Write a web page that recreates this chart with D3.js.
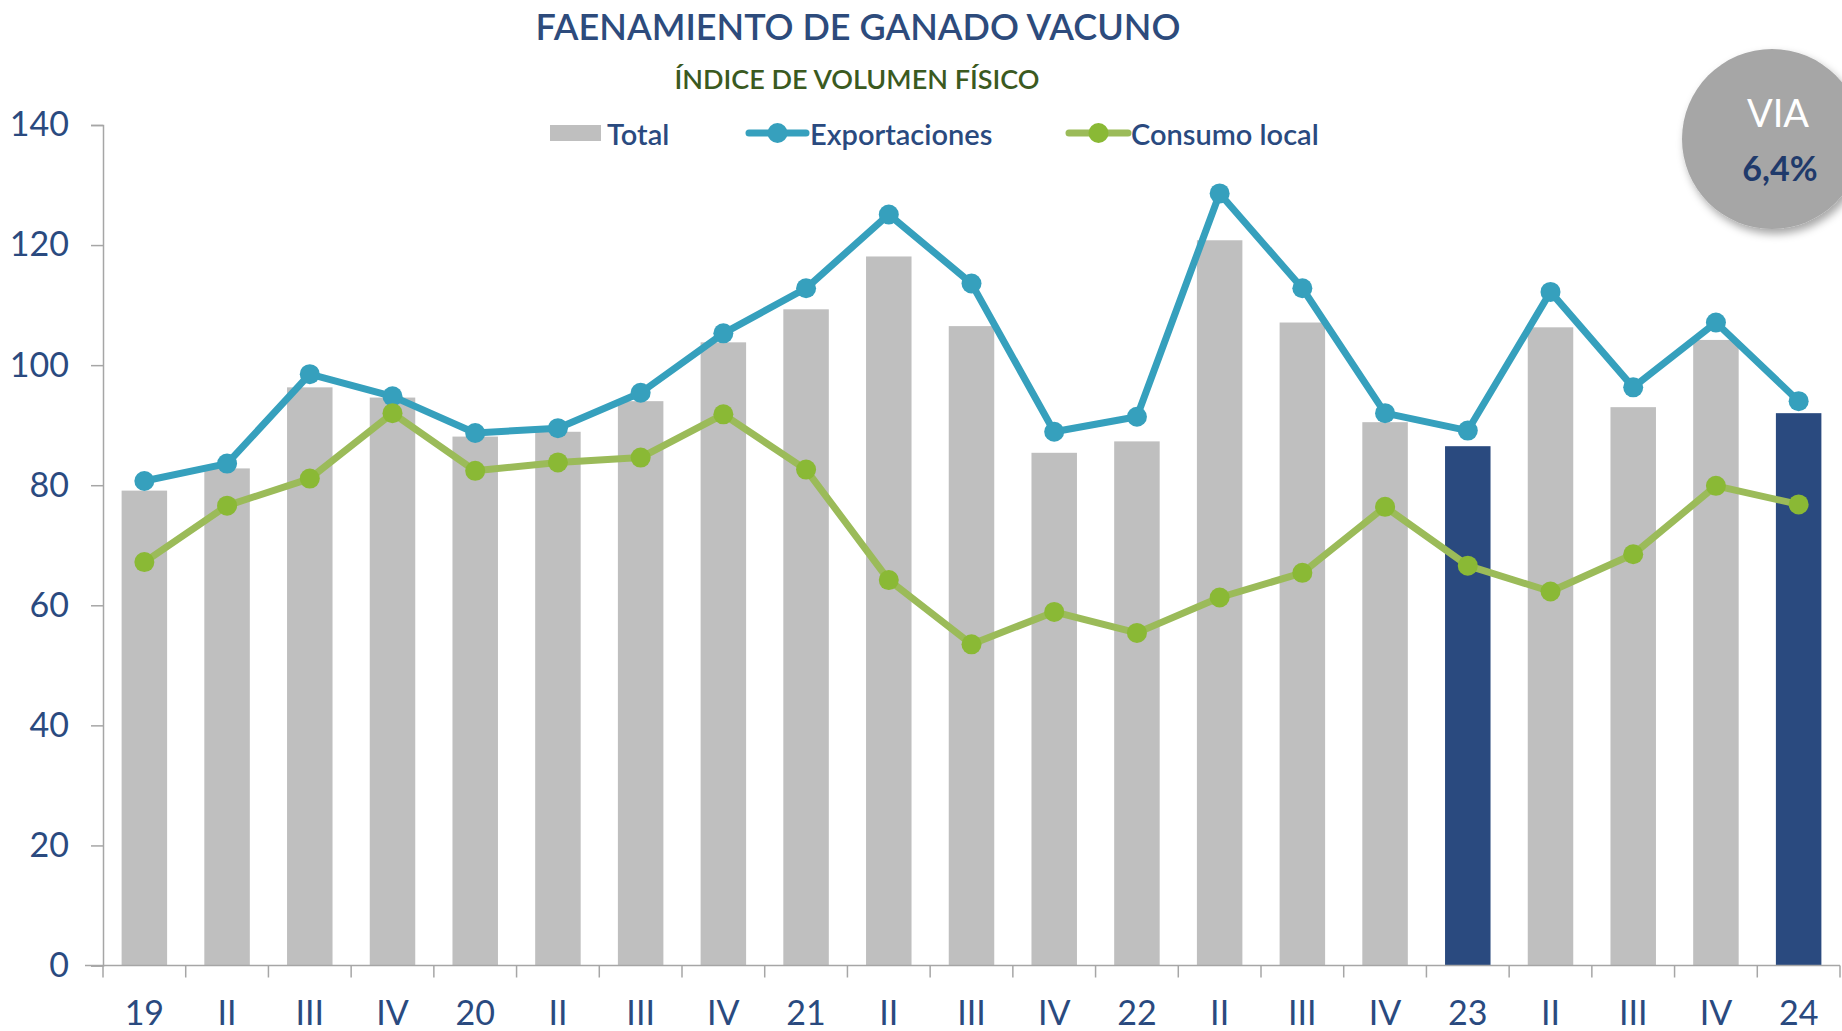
<!DOCTYPE html>
<html><head><meta charset="utf-8">
<script src="https://cdn.jsdelivr.net/npm/d3@7"></script>
<style>
html,body{margin:0;padding:0;background:#fff;}
svg{display:block;}
text{font-family:Lato,"Open Sans",sans-serif;}
</style></head>
<body><div id="chart"></div>
<script>
const categories = ["19","II","III","IV","20","II","III","IV","21","II","III","IV","22","II","III","IV","23","II","III","IV","24"];
const total = [79.1,82.8,96.3,94.6,88.1,88.9,94.0,103.8,109.3,118.1,106.5,85.4,87.3,120.8,107.1,90.5,86.5,106.3,93.0,104.2,92.0];
const exportaciones = [80.7,83.6,98.5,94.8,88.7,89.5,95.4,105.3,112.8,125.1,113.6,88.9,91.4,128.6,112.8,92.0,89.1,112.2,96.3,107.1,94.0];
const consumoLocal = [67.2,76.6,81.1,92.0,82.4,83.8,84.6,91.8,82.6,64.2,53.5,58.9,55.4,61.3,65.4,76.4,66.6,62.3,68.5,79.9,76.8];
const highlighted = [16, 20];
const yTicks = [0,20,40,60,80,100,120,140];
const seriesNames = ["Total","Exportaciones","Consumo local"];
const titleText = "FAENAMIENTO DE GANADO VACUNO";
const subtitleText = "ÍNDICE DE VOLUMEN FÍSICO";
const viaLabel = "VIA";
const viaValue = "6,4%";

(function(){
const W = 1842, H = 1031;
const svg = d3.select("#chart").append("svg").attr("width", W).attr("height", H);
const defs = svg.append("defs");
const f = defs.append("filter").attr("id","shadow").attr("x","-30%").attr("y","-30%").attr("width","160%").attr("height","160%");
f.append("feDropShadow").attr("dx",3).attr("dy",5).attr("stdDeviation",4).attr("flood-color","#000").attr("flood-opacity",0.35);

const mLeft = 103, mRight = 1840, mTop = 125, mBottom = 965.5;
const x = d3.scaleBand().domain(d3.range(categories.length)).range([mLeft, mRight]).paddingInner(0.45).paddingOuter(0.225);
const xb = d3.scaleBand().domain(d3.range(categories.length)).range([mLeft, mRight]);
const y = d3.scaleLinear().domain([0,140]).range([mBottom, mTop]);

const blue = "#2a4a7f", grey = "#bfbfbf", teal = "#36a0bd", green = "#9bbb59", greenDot = "#8ab935", axisC = "#a6a6a6";

svg.append("g").selectAll("rect").data(total).join("rect")
  .attr("x",(d,i)=>x(i)).attr("width",x.bandwidth())
  .attr("y",d=>y(d)).attr("height",d=>y(0)-y(d))
  .attr("fill",(d,i)=>highlighted.includes(i)?blue:grey);

const yAxis = svg.append("g").attr("transform",`translate(${mLeft},0)`)
  .call(d3.axisLeft(y).tickValues(yTicks).tickSize(12).tickPadding(22));
yAxis.select(".domain").attr("stroke",axisC).attr("stroke-width",1.5);
yAxis.selectAll(".tick line").attr("stroke",axisC).attr("stroke-width",1.5);
yAxis.selectAll(".tick text").attr("fill",blue).attr("font-size",34).attr("font-family","Lato, sans-serif");

const xAxisG = svg.append("g").attr("transform",`translate(0,${mBottom})`);
xAxisG.append("line").attr("x1",mLeft-18).attr("x2",mRight).attr("stroke",axisC).attr("stroke-width",1.5);
xAxisG.selectAll("line.tk").data(d3.range(categories.length+1)).join("line").attr("class","tk")
  .attr("x1",i=> i<categories.length ? xb(i) : mRight).attr("x2",i=> i<categories.length ? xb(i) : mRight)
  .attr("y1",0).attr("y2",12).attr("stroke",axisC).attr("stroke-width",1.5);
xAxisG.selectAll("text").data(categories).join("text")
  .attr("x",(d,i)=>xb(i)+xb.bandwidth()/2).attr("y",46)
  .attr("text-anchor","middle").attr("dominant-baseline","central")
  .attr("fill",blue).attr("font-size",34).text(d=>d);

const cx = i => x(i) + x.bandwidth()/2;
const line = d3.line().x((d,i)=>cx(i)).y(d=>y(d));
svg.append("path").datum(exportaciones).attr("d",line).attr("fill","none").attr("stroke",teal).attr("stroke-width",7).attr("stroke-linejoin","round");
svg.append("g").selectAll("circle").data(exportaciones).join("circle").attr("cx",(d,i)=>cx(i)).attr("cy",d=>y(d)).attr("r",10).attr("fill",teal);
svg.append("path").datum(consumoLocal).attr("d",line).attr("fill","none").attr("stroke",green).attr("stroke-width",7).attr("stroke-linejoin","round");
svg.append("g").selectAll("circle").data(consumoLocal).join("circle").attr("cx",(d,i)=>cx(i)).attr("cy",d=>y(d)).attr("r",10).attr("fill",greenDot);

svg.append("text").attr("x",858).attr("y",26).attr("text-anchor","middle").attr("dominant-baseline","central")
  .attr("fill","#2d4b7c").attr("font-size",36).attr("font-weight",600).text(titleText);
svg.append("text").attr("x",857).attr("y",78).attr("text-anchor","middle").attr("dominant-baseline","central")
  .attr("fill","#3b5a1f").attr("font-size",27).attr("font-weight",600).text(subtitleText);

const lg = svg.append("g");
const ly = 133;
lg.append("rect").attr("x",550).attr("y",ly-8).attr("width",51).attr("height",16).attr("fill",grey);
lg.append("text").attr("x",607).attr("y",ly).attr("dominant-baseline","central").attr("fill",blue).attr("font-size",29).attr("font-weight",600).text(seriesNames[0]);
lg.append("line").attr("x1",749).attr("x2",806).attr("y1",ly).attr("y2",ly).attr("stroke",teal).attr("stroke-width",7).attr("stroke-linecap","round");
lg.append("circle").attr("cx",777.5).attr("cy",ly).attr("r",10).attr("fill",teal);
lg.append("text").attr("x",810).attr("y",ly).attr("dominant-baseline","central").attr("fill",blue).attr("font-size",29).attr("font-weight",600).text(seriesNames[1]);
lg.append("line").attr("x1",1069).attr("x2",1128).attr("y1",ly).attr("y2",ly).attr("stroke",green).attr("stroke-width",7).attr("stroke-linecap","round");
lg.append("circle").attr("cx",1098.5).attr("cy",ly).attr("r",10).attr("fill",greenDot);
lg.append("text").attr("x",1131).attr("y",ly).attr("dominant-baseline","central").attr("fill",blue).attr("font-size",29).attr("font-weight",600).text(seriesNames[2]);

const vg = svg.append("g");
vg.append("circle").attr("cx",1772).attr("cy",139).attr("r",90).attr("fill","#a6a6a6").attr("filter","url(#shadow)");
vg.append("text").attr("x",1778).attr("y",112).attr("text-anchor","middle").attr("dominant-baseline","central")
  .attr("fill","#fff").attr("font-size",38).attr("font-family","'Open Sans', sans-serif").text(viaLabel);
vg.append("text").attr("x",1780).attr("y",167).attr("text-anchor","middle").attr("dominant-baseline","central")
  .attr("fill","#1f3a6b").attr("font-size",34).attr("font-weight","bold").attr("font-family","'Open Sans', sans-serif").text(viaValue);
})();
</script></body></html>
